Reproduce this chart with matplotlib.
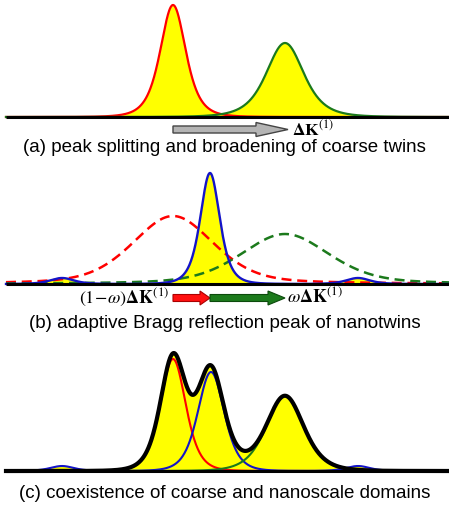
'''Schematic of diffraction peak profiles for coarse twins and nanotwins.'''

import numpy as np
import matplotlib.pyplot as plt
from matplotlib.patches import FancyArrow

plt.rcParams['font.family'] = ['Liberation Sans', 'DejaVu Sans']
plt.rcParams['mathtext.fontset'] = 'stix'

# --- peak parameters (x in px, height in px above baseline)
# (a) coarse twins
a_centers = [173, 285]
a_heights = [112, 74]
a_fwhm = [30, 44]
a_colors = ['#ff0000', '#1c7a1c']

# (b) nanotwins: adaptive peak with satellites, plus broad twin peaks (dashed)
b_centers = [62, 210, 358]
b_heights = [6, 111, 6]
b_fwhm = [28, 23, 28]
b_dash_centers = [173, 285]
b_dash_heights = [68, 50]
b_dash_fwhm = [96, 104]

# (c) coexistence: main peaks (red, blue, green) and blue satellites
c_centers = [173, 211, 285]
c_heights = [112, 99, 75]
c_fwhm = [30, 31, 44]
c_colors = ['#ff0000', '#1414c8', '#1c7a1c']
c_sat_centers = [62, 358]
c_sat_heights = [5, 5]
c_sat_fwhm = [28, 28]

captions = ['(a) peak splitting and broadening of coarse twins',
            '(b) adaptive Bragg reflection peak of nanotwins',
            '(c) coexistence of coarse and nanoscale domains']

BLUE = '#1414c8'
YELLOW = '#ffff00'
W, H = 449, 508
x = np.linspace(6, 449, 1500)


def profile(c, h, fwhm, m=2.5):
    """Pearson VII peak"""
    k = 4 * (2 ** (1 / m) - 1) / fwhm ** 2
    return h / (1 + k * (x - c) ** 2) ** m


def broad(c, h, fwhm, eta=0.35):
    """pseudo-Voigt peak for the broad dashed profiles"""
    g = np.exp(-4 * np.log(2) * ((x - c) / fwhm) ** 2)
    l = 1.0 / (1 + 4 * ((x - c) / fwhm) ** 2)
    return h * (eta * l + (1 - eta) * g)


def make_axes(fig, top, bottom, base):
    ax = fig.add_axes([0, 1 - bottom / H, 1, (bottom - top) / H])
    ax.set_xlim(0, W)
    ax.set_ylim(base - bottom, base - top)
    ax.axis('off')
    return ax


def baseline(ax):
    ax.plot([6, 449], [0, 0], color='black', lw=2.2, solid_capstyle='butt', zorder=5)


fig = plt.figure(figsize=(W / 100, H / 100), dpi=100)

# ---------------------------------------------------------------- (a)
ax = make_axes(fig, 0, 160, 117)
for c, h, w, col in zip(a_centers, a_heights, a_fwhm, a_colors):
    y = profile(c, h, w)
    ax.fill_between(x, 0, y, color=YELLOW, lw=0)
    ax.plot(x, y, color=col, lw=1.6)
baseline(ax)
ax.add_patch(FancyArrow(a_centers[0], -12.5, a_centers[1] - a_centers[0] + 3, 0,
                        width=7, head_width=14, head_length=32,
                        length_includes_head=True, fc='#b4b4b4', ec='#444444', lw=1))
ax.text(292, -12, r'$\mathbf{\Delta K}^{(1)}$', fontsize=12.5, va='center', ha='left')
ax.text(W / 2, -31, captions[0], fontsize=13.5, ha='center', va='center')

# ---------------------------------------------------------------- (b)
ax = make_axes(fig, 160, 335, 284)
blue = sum(profile(c, h, w) for c, h, w in zip(b_centers, b_heights, b_fwhm))
ax.fill_between(x, 0, blue, color=YELLOW, lw=0)
for c, h, w, col in zip(b_dash_centers, b_dash_heights, b_dash_fwhm, a_colors):
    ax.plot(x, broad(c, h, w), color=col, lw=1.8, ls=(0, (4, 2.3)))
ax.plot(x, blue, color=BLUE, lw=1.7)
baseline(ax)
ax.add_patch(FancyArrow(b_dash_centers[0], -14, b_centers[1] - b_dash_centers[0], 0,
                        width=7, head_width=14, head_length=10,
                        length_includes_head=True, fc='#ff1010', ec='#aa0000', lw=0.8))
ax.add_patch(FancyArrow(b_centers[1], -14, b_dash_centers[1] - b_centers[1], 0,
                        width=7, head_width=14, head_length=17,
                        length_includes_head=True, fc='#1c7a1c', ec='#0c4a0c', lw=0.8))
ax.text(169, -13, r'$(1\!-\!\omega)\mathbf{\Delta K}^{(1)}$', fontsize=13,
        va='center', ha='right')
ax.text(287, -13, r'$\omega\mathbf{\Delta K}^{(1)}$', fontsize=13, va='center', ha='left')
ax.text(W / 2, -39, captions[1], fontsize=13.5, ha='center', va='center')

# ---------------------------------------------------------------- (c)
ax = make_axes(fig, 335, 508, 471)
parts = [profile(c, h, w, m=3.2) for c, h, w in zip(c_centers, c_heights, c_fwhm)]
sats = sum(profile(c, h, w) for c, h, w in zip(c_sat_centers, c_sat_heights, c_sat_fwhm))
total = sum(parts)
ax.fill_between(x, 0, total, color=YELLOW, lw=0)
ax.fill_between(x, 0, sats, color=YELLOW, lw=0)
for y, col in zip(parts, c_colors):
    ax.plot(x, y, color=col, lw=1.5)
ax.plot(x, sats, color=BLUE, lw=1.5)
ax.plot(x, total, color='black', lw=3)
baseline(ax)
ax.text(W / 2, -22, captions[2], fontsize=13.5, ha='center', va='center')

fig.savefig('out.png', dpi=100)
